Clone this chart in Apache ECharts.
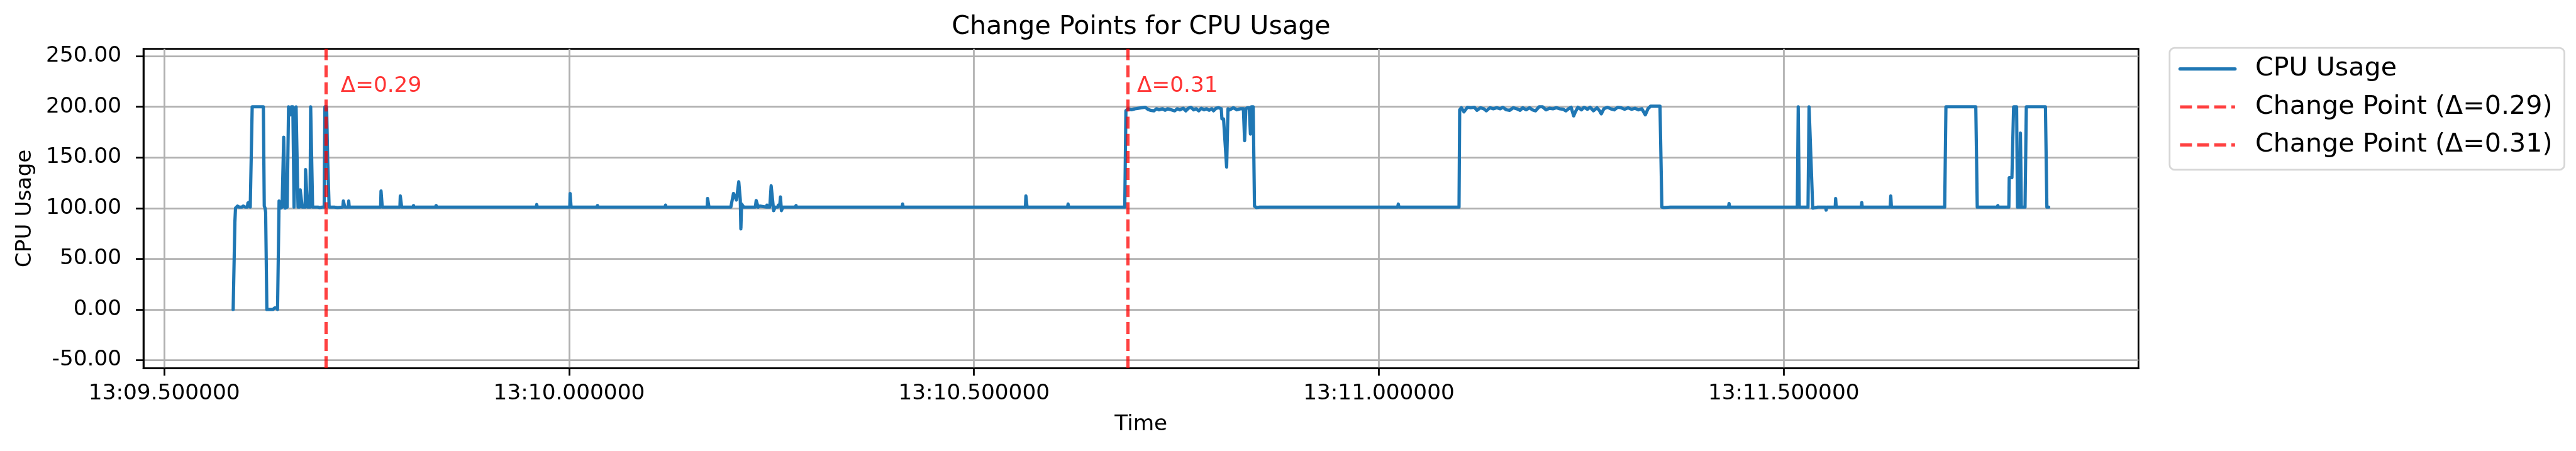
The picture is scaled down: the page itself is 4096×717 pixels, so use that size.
<!DOCTYPE html>
<html><head><meta charset="utf-8">
<script src="https://cdn.jsdelivr.net/npm/echarts@6/dist/echarts.min.js"></script>
<style>html,body{margin:0;padding:0;background:#fff}#c{width:4096px;height:717px}</style>
</head><body><div id="c"></div>
<script>
// seconds within minute 13 (labels shown as 13:SS.ffffff)
const times = [
9.5851,9.5862,9.5872,9.5880,9.5890,9.5905,9.5915,9.5925,9.5940,9.5958,
9.5975,9.6001,9.6026,9.6033,9.6054,9.6062,9.6075,9.6086,9.6120,9.6160,
9.6200,9.6224,9.6235,9.6245,9.6252,9.6267,9.6300,9.6342,9.6363,9.6389,
9.6399,9.6418,9.6428,9.6438,9.6455,9.6468,9.6475,9.6484,9.6492,9.6505,
9.6518,9.6535,9.6550,9.6560,9.6570,9.6588,9.6603,9.6615,9.6628,9.6640,
9.6652,9.6672,9.6679,9.6692,9.6704,9.6740,9.6745,9.6760,9.6768,9.6800,
9.6808,9.6822,9.6832,9.6843,9.6870,9.6897,9.6920,9.6950,9.6975,9.6984,
9.7005,9.7018,9.7027,9.7036,9.7100,9.7140,9.7205,9.7212,9.7222,9.7229,
9.7272,9.7278,9.7284,9.7360,9.7366,9.7372,9.7434,9.7440,9.7446,9.7552,
9.7558,9.7564,9.7594,9.7600,9.7606,9.7672,9.7677,9.7685,9.7692,9.7910,
9.7915,9.7925,9.7932,9.8072,9.8078,9.8084,9.8165,9.8171,9.8177,9.8280,
9.8286,9.8292,9.8351,9.8357,9.8363,9.9594,9.9600,9.9606,10.0008,10.0012,
10.0018,10.0024,10.0344,10.0350,10.0356,10.0434,10.0440,10.0446,10.0522,10.0528,
10.0534,10.1185,10.1191,10.1197,10.1705,10.1710,10.1720,10.1727,10.1997,10.2030,
10.2045,10.2066,10.2095,10.2105,10.2114,10.2121,10.2130,10.2156,10.2300,10.2310,
10.2318,10.2334,10.2348,10.2354,10.2360,10.2437,10.2443,10.2449,10.2478,10.2484,
10.2495,10.2508,10.2526,10.2545,10.2578,10.2584,10.2600,10.2610,10.2616,10.2622,
10.2640,10.2796,10.2802,10.2808,10.3436,10.3442,10.3448,10.4113,10.4119,10.4125,
10.5635,10.5641,10.5649,10.5655,10.6156,10.6162,10.6168,10.6316,10.6322,10.6328,
10.6862,10.6876,10.6902,10.6944,10.6987,10.7030,10.7072,10.7115,10.7147,10.7179,
10.7222,10.7254,10.7286,10.7328,10.7360,10.7392,10.7435,10.7478,10.7510,10.7542,
10.7584,10.7616,10.7648,10.7680,10.7712,10.7744,10.7776,10.7808,10.7840,10.7872,
10.7904,10.7936,10.7958,10.7990,10.8022,10.8054,10.8062,10.8082,10.8120,10.8137,
10.8160,10.8203,10.8246,10.8288,10.8327,10.8342,10.8357,10.8378,10.8399,10.8414,
10.8427,10.8448,10.8464,10.8488,10.8530,10.8562,10.8568,10.8574,10.8645,10.8651,
10.8657,10.8989,10.8995,10.9001,11.0232,11.0240,11.0248,11.0557,11.0563,11.0569,
11.0638,11.0644,11.0650,11.0714,11.0720,11.0726,11.0759,11.0765,11.0771,11.0990,
11.0998,11.1019,11.1051,11.1094,11.1136,11.1179,11.1211,11.1254,11.1296,11.1328,
11.1371,11.1414,11.1456,11.1499,11.1531,11.1574,11.1616,11.1659,11.1702,11.1744,
11.1776,11.1819,11.1862,11.1894,11.1936,11.1979,11.2022,11.2064,11.2107,11.2150,
11.2192,11.2235,11.2278,11.2310,11.2342,11.2374,11.2406,11.2427,11.2459,11.2502,
11.2534,11.2576,11.2608,11.2651,11.2694,11.2726,11.2747,11.2779,11.2822,11.2864,
11.2907,11.2950,11.2992,11.3035,11.3078,11.3120,11.3163,11.3206,11.3248,11.3291,
11.3323,11.3355,11.3419,11.3472,11.3495,11.3520,11.3600,11.4318,11.4325,11.4333,
11.4431,11.4437,11.4443,11.4634,11.4640,11.4646,11.4746,11.4752,11.4758,11.5118,
11.5124,11.5130,11.5168,11.5179,11.5192,11.5300,11.5313,11.5322,11.5358,11.5420,
11.5480,11.5486,11.5492,11.5518,11.5524,11.5530,11.5636,11.5641,11.5648,11.5958,
11.5964,11.5970,11.6315,11.6322,11.6330,11.6557,11.6563,11.6569,11.6719,11.6725,
11.6731,11.6988,11.7003,11.7150,11.7300,11.7372,11.7390,11.7429,11.7435,11.7441,
11.7638,11.7644,11.7650,11.7715,11.7721,11.7727,11.7780,11.7785,11.7818,11.7839,
11.7876,11.7887,11.7915,11.7923,11.7935,11.7980,11.7996,11.8100,11.8232,11.8250,
11.8272
];
const cpu = [
0,0,86,100,101,102,103,101,102,101,
102,101,101,105,106,101,101,200,200,200,
200,200,102,100,96,0,0,0,1.5,1.5,
0,107,107,100,101,101,170,170,100,101,
101,200,200,192,200,200,101,101,200,200,
101,101,118,118,101,101,138,138,101,101,
200,200,101,102,101,101,100.5,101,101,200,
200,148,148,101,101,100.5,101,107,107,101,
101,107,101,101,102,101,101,102,101,101,
102,101,101,102,101,101,117,117,101,101,
112,112,101,101,102.5,101,101,102,101,101,
102,101,101,102.5,101,101,103.5,101,101,114.5,
114,101,101,102.5,101,101,102,101,101,102,
101,101,103,101,101,109.5,109.5,101,101,114.5,
114,108,126,126,108,79.5,104,101,101,107.5,
107.5,101,101,102,101,101,103,101,101,102,
122,121,97.5,101,101,103,102,111,111,97.5,
101,101,102.5,101,101,102,101,101,104,101,
101,112,112,101,101,104,101,101,102,101,
101,196,198,197,198,198.5,199,199.5,197.5,196.5,
196,198,197,198,196.5,198,197,196,198,197,
198.5,196,198.5,199.5,197,198,196,198.5,197,198,
196.5,198,196,198.5,199,198,188,188,140.5,198,
197,199,197,198,198,166.5,198,199,199,173,
200,200,102,100.5,101,101,102,101,101,102,
101,101,101.5,101,101,104,101,101,102,101,
101,102,101,101,102,101,101,102,101,101,
197,199,195,199.5,199,199.5,196.5,199,198,196,
199,198,199,198,199.5,197,196.5,199,198,196.5,
199,197,199,197,196,200,200,197,198.5,198,
199,198,197.5,196,198,199.5,191,195,199.5,197,
199.5,197.5,199.5,196,199,196,193,198,199.5,198,
197,199.5,199,197.5,199,197.5,198.5,197,198,192,
198,200.5,200.5,200.5,101,100.5,101,101,104.5,101,
101,102,101,101,101.5,101,101,102,101,101,
102,101,101,200,101,101,200,200,100,101,
101,102,101,101,98,101,101,109.5,101,101,
105.5,101,101,112,101,101,102,101,101,102,
101,101,200,200,200,200,101,101,101.5,101,
101,102.5,101,101,101.5,101,101,130,130,200,
200,101,101,174,101,101,200,200,200,101,
101
];
const xTicks = [9.5, 10.0, 10.5, 11.0, 11.5];
const yTicks = [-50, 0, 50, 100, 150, 200, 250];
const changePoints = [9.7035, 10.6870];
const changeDeltas = [0.29, 0.31];
const minutePrefix = '13:';

const FONT = 'DejaVu Sans';
const BLUE = '#1f77b4';
const RED = 'rgba(255,0,0,0.75)';
const labelY = 210;

const chart = echarts.init(document.getElementById('c'), null, {renderer: 'canvas'});

const series = [{
  name: 'CPU Usage', type: 'line', symbol: 'none', showSymbol: false,
  data: times.map((t, i) => [t, cpu[i]]),
  lineStyle: {color: BLUE, width: 5.15, join: 'round', cap: 'round'},
  itemStyle: {color: BLUE}, z: 3, silent: true, animation: false
}];
changePoints.forEach((cp, i) => {
  series.push({
    name: 'Change Point (Δ=' + changeDeltas[i].toFixed(2) + ')',
    type: 'line', data: [], symbol: 'none',
    lineStyle: {color: RED, width: 5.15, type: [19, 8.2]},
    itemStyle: {color: RED}, z: 5,
    markLine: {
      silent: true, symbol: ['none', 'none'], animation: false,
      label: {show: false},
      lineStyle: {color: RED, width: 5.15, type: [19, 8.2]},
      emphasis: {disabled: true},
      data: [{xAxis: cp}]
    }
  });
});
series.push({
  type: 'scatter', symbolSize: 1, silent: true, z: 6,
  itemStyle: {color: 'transparent'},
  data: changePoints.map((cp, i) => ({value: [cp, labelY], label: {formatter: 'Δ=' + changeDeltas[i].toFixed(2)}})),
  label: {show: true, position: 'right', distance: 0, offset: [18, 0], align: 'left', verticalAlign: 'bottom',
          color: '#ff0000', fontSize: 34.3, fontFamily: FONT}
});

const fmtX = v => minutePrefix + (v < 10 ? '0' : '') + v.toFixed(6);

chart.setOption({
  animation: false,
  backgroundColor: '#fff',
  graphic: [{
    type: 'text', x: 1814.4, y: 23.3,
    style: {text: 'Change Points for CPU Usage', fontSize: 41.2, fontFamily: FONT, fill: '#000', align: 'center', verticalAlign: 'top'}
  }],
  grid: {left: 228.1, top: 77.7, width: 3172.2, height: 507.6, show: true, borderColor: '#000', borderWidth: 2.75,
         backgroundColor: 'transparent', containLabel: false, outerBoundsMode: 'none'},
  legend: {
    orient: 'vertical', left: 3449.8, top: 76.1,
    data: series.filter(s => s.name).map(s => s.name),
    itemWidth: 87.5, itemHeight: 20, itemGap: 19.4,
    padding: [13, 19, 19, 14],
    backgroundColor: '#fff', borderColor: '#d6d6d6', borderWidth: 2.75, borderRadius: 8,
    lineStyle: {width: 5.15},
    itemStyle: {opacity: 0},
    textStyle: {fontFamily: FONT, fontSize: 41.2, color: '#000', padding: [0, 0, 0, 27]},
    selectedMode: false
  },
  xAxis: {
    type: 'value', min: 9.4743, max: 11.9381,
    name: 'Time', nameLocation: 'middle', nameGap: 73,
    nameTextStyle: {fontFamily: FONT, fontSize: 34.3, color: '#000'},
    axisLine: {show: true, onZero: false, lineStyle: {color: '#000', width: 2.75}},
    axisTick: {show: true, customValues: xTicks, length: 12, lineStyle: {color: '#000', width: 2.75}},
    axisLabel: {customValues: xTicks, formatter: fmtX, margin: 23.6, fontFamily: FONT, fontSize: 34.3, color: '#000'},
    splitLine: {show: true, lineStyle: {color: '#b0b0b0', width: 2.75}}
  },
  yAxis: {
    type: 'value', min: -57.9, max: 257.1,
    name: 'CPU Usage', nameLocation: 'middle', nameGap: 171, nameRotate: 90,
    nameTextStyle: {fontFamily: FONT, fontSize: 34.3, color: '#000'},
    axisLine: {show: true, onZero: false, lineStyle: {color: '#000', width: 2.75}},
    axisTick: {show: true, customValues: yTicks, length: 12, lineStyle: {color: '#000', width: 2.75}},
    axisLabel: {customValues: yTicks, formatter: v => v.toFixed(2), margin: 35, fontFamily: FONT, fontSize: 34.3, color: '#000'},
    splitLine: {show: true, lineStyle: {color: '#b0b0b0', width: 2.75}}
  },
  series: series
});
</script>
</body></html>
